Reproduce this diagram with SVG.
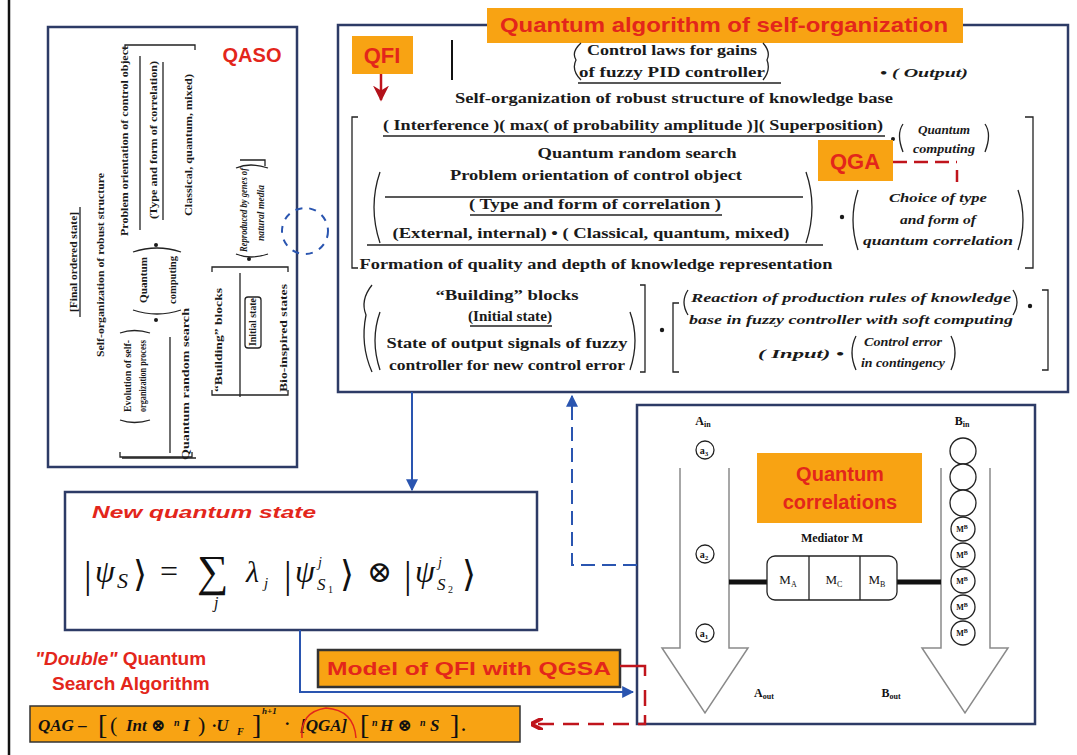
<svg xmlns="http://www.w3.org/2000/svg" width="1077" height="755" viewBox="0 0 1077 755">
<defs>
  <marker id="arrBlue" viewBox="0 0 10 10" refX="9" refY="5" markerWidth="6" markerHeight="6" orient="auto"><path d="M0,0 L10,5 L0,10 z" fill="#2a55b0"/></marker>
  <marker id="arrRed" viewBox="0 0 10 10" refX="9" refY="5" markerUnits="userSpaceOnUse" markerWidth="16" markerHeight="18" orient="auto"><path d="M0,0 L10,5 L0,10 L3,5 z" fill="#b3121a"/></marker>
  <marker id="chevRed" viewBox="0 0 10 10" refX="9" refY="5" markerWidth="5" markerHeight="5" orient="auto"><path d="M0,0 L10,5 L0,10" fill="none" stroke="#c0141c" stroke-width="3"/></marker>
</defs>
<style>
  .panel{fill:#fff;stroke:#2d3b66;stroke-width:2.5}
  .orange{fill:#f8a313}
  .hl{font-family:'Liberation Sans',Arial,sans-serif;font-weight:bold;fill:#e3261b}
  .t{font-family:'Liberation Serif','Times New Roman',serif;font-weight:bold;fill:#1a1a1a;font-size:14px}
  .ti{font-family:'Liberation Serif','Times New Roman',serif;font-weight:bold;font-style:italic;fill:#1a1a1a;font-size:13px}
  .q{font-size:10.5px}
  .ln{stroke:#222;stroke-width:1.3;fill:none}
  .gray{stroke:#8a8a8a;stroke-width:1.5;fill:#fff}
  .m{font-family:'Liberation Serif','DejaVu Serif',serif;fill:#111}
  .mi{font-family:'Liberation Serif','DejaVu Serif',serif;font-style:italic;fill:#111}
  .bd{stroke:#2a55b0;stroke-width:2;fill:none}
  .rd{stroke:#c0141c;stroke-width:2.5;fill:none}
</style>
<rect width="1077" height="755" fill="#fff"/>
<line x1="9" y1="0" x2="9" y2="755" stroke="#111" stroke-width="2.5"/>

<!-- QASO panel: rotated formula -->
<g id="qaso">
  <rect class="panel" x="48" y="27" width="249" height="440"/>
  <text class="hl" x="252" y="62" font-size="20" text-anchor="middle">QASO</text>
  <g class="t q" text-anchor="middle">
    <text transform="translate(77,262) rotate(-90)" textLength="100" lengthAdjust="spacingAndGlyphs">[Final ordered state]</text>
    <text transform="translate(104,265) rotate(-90)" textLength="184" lengthAdjust="spacingAndGlyphs">Self-organization of robust structure</text>
    <text transform="translate(128,141) rotate(-90)" textLength="190" lengthAdjust="spacingAndGlyphs">Problem orientation of control object</text>
    <text transform="translate(157,140) rotate(-90)" textLength="158" lengthAdjust="spacingAndGlyphs">(Type and form of correlation)</text>
    <text transform="translate(192,145) rotate(-90)" textLength="142" lengthAdjust="spacingAndGlyphs">Classical, quantum, mixed)</text>
    <text transform="translate(147,280) rotate(-90)" textLength="46" lengthAdjust="spacingAndGlyphs">Quantum</text>
    <text transform="translate(176,280) rotate(-90)" textLength="48" lengthAdjust="spacingAndGlyphs">computing</text>
    <text transform="translate(131,376) rotate(-90)" textLength="72" lengthAdjust="spacingAndGlyphs">Evolution of self-</text>
    <text transform="translate(146,376) rotate(-90)" textLength="72" lengthAdjust="spacingAndGlyphs">organization process</text>
    <text transform="translate(189,384) rotate(-90)" textLength="152" lengthAdjust="spacingAndGlyphs">Quantum random search</text>
    <text transform="translate(222,340) rotate(-90)" textLength="104" lengthAdjust="spacingAndGlyphs">“Building” blocks</text>
    <text transform="translate(256,322) rotate(-90)" textLength="48" lengthAdjust="spacingAndGlyphs">Initial state</text>
    <text transform="translate(287,338) rotate(-90)" textLength="108" lengthAdjust="spacingAndGlyphs">Bio-inspired states</text>
    <text class="ti q" transform="translate(247,210) rotate(-90)" textLength="84" lengthAdjust="spacingAndGlyphs">Reproduced by genes of</text>
    <text class="ti q" transform="translate(264,213) rotate(-90)" textLength="56" lengthAdjust="spacingAndGlyphs">natural media</text>
  </g>
  <g class="ln">
    <path d="M80,207 V317"/>
    <path d="M125,50 V45 H195 V50"/>
    <path d="M140,56 V230"/>
    <path d="M163,62 V220"/>
    <path d="M133,252 Q157,244 181,252 M133,310 Q157,318 181,310"/>
    <path d="M120,333 Q134,328 150,333 M120,420 Q134,425 150,420"/>
    <path d="M170,337 V453"/>
    <path d="M120,452 V457 H192 V452"/>
    <path d="M212,272 V267 H288 V272 M212,390 V395 H288 V390"/>
    <path d="M240,273 V397"/>
    <rect x="245" y="297" width="16" height="51" rx="3"/>
    <path d="M236,168 Q250,162 268,168 M236,254 Q250,260 268,254"/>
    <path d="M240,160 H265 V166"/>
    <path d="M122,458 H196"/>
  </g>
  <g fill="#1a1a1a">
    <circle cx="156" cy="245" r="2"/>
    <circle cx="156" cy="320" r="2"/>
    <circle cx="249" cy="259" r="2"/>
  </g>
</g>

<!-- Quantum algorithm of self-organization -->
<g id="qaso-algorithm">
  <rect class="panel" x="338" y="25" width="730" height="367"/>
  <rect class="orange" x="487" y="8" width="476" height="35"/>
  <text class="hl" x="724" y="32" font-size="21" text-anchor="middle" textLength="448" lengthAdjust="spacingAndGlyphs">Quantum algorithm of self-organization</text>

  <line x1="452" y1="40" x2="452" y2="80" stroke="#111" stroke-width="2"/>
  <text class="t" font-size="13" x="672" y="55" text-anchor="middle" textLength="170" lengthAdjust="spacingAndGlyphs">Control laws for gains</text>
  <text class="t" font-size="13" x="672" y="77" text-anchor="middle" textLength="186" lengthAdjust="spacingAndGlyphs">of fuzzy PID controller</text>
  <path class="ln" d="M581,43 Q571,52 576,60 Q571,70 581,80 M763,43 Q771,52 767,60 Q771,70 763,80 M578,83 H781"/>
  <text class="ti" font-size="12" x="880" y="77" textLength="88" lengthAdjust="spacingAndGlyphs">• ( Output)</text>

  <text class="t" x="674" y="103" text-anchor="middle" textLength="438" lengthAdjust="spacingAndGlyphs">Self-organization of robust structure of knowledge base</text>
  <text class="t" x="383" y="130" textLength="500" lengthAdjust="spacingAndGlyphs">( Interference )( max( of probability amplitude )]( Superposition)</text>
  <path class="ln" d="M383,136 H885"/>
  <circle cx="893" cy="139" r="2" fill="#1a1a1a"/>
  <path class="ln" d="M903,124 Q896,134 903,152 M985,124 Q992,134 985,152"/>
  <text class="ti" font-size="12" x="944" y="134" text-anchor="middle" textLength="52" lengthAdjust="spacingAndGlyphs">Quantum</text>
  <text class="ti" font-size="12" x="944" y="153" text-anchor="middle" textLength="62" lengthAdjust="spacingAndGlyphs">computing</text>

  <path class="ln" d="M358,117 H352 V268 H358 M1025,117 H1033 V268 H1025"/>

  <text class="t" x="637" y="158" text-anchor="middle" textLength="199" lengthAdjust="spacingAndGlyphs">Quantum random search</text>
  <text class="t" x="596" y="180" text-anchor="middle" textLength="292" lengthAdjust="spacingAndGlyphs">Problem orientation of control object</text>
  <path class="ln" d="M380,172 Q368,207 380,243 M806,172 Q818,207 806,243"/>
  <path class="ln" d="M385,197 H803"/>
  <text class="t" font-size="13" x="595" y="209" text-anchor="middle" textLength="252" lengthAdjust="spacingAndGlyphs">( Type and form of correlation )</text>
  <path class="ln" d="M470,215 H722"/>
  <text class="t" font-size="13" x="591" y="238" text-anchor="middle" textLength="397" lengthAdjust="spacingAndGlyphs">(External, internal) • ( Classical, quantum, mixed)</text>
  <path class="ln" d="M367,245 H823"/>
  <circle cx="842" cy="217" r="2.2" fill="#1a1a1a"/>
  <path class="ln" d="M858,190 Q848,220 858,250 M1018,190 Q1028,220 1018,250"/>
  <text class="ti" font-size="13" x="938" y="202" text-anchor="middle" textLength="98" lengthAdjust="spacingAndGlyphs">Choice of type</text>
  <text class="ti" font-size="13" x="938" y="224" text-anchor="middle" textLength="76" lengthAdjust="spacingAndGlyphs">and form of</text>
  <text class="ti" font-size="13" x="938" y="245" text-anchor="middle" textLength="150" lengthAdjust="spacingAndGlyphs">quantum correlation</text>

  <text class="t" x="596" y="269" text-anchor="middle" textLength="473" lengthAdjust="spacingAndGlyphs">Formation of quality and depth of knowledge representation</text>

  <path class="ln" d="M372,285 Q360,300 366,315 Q360,345 372,372"/>
  <path class="ln" d="M380,312 Q370,340 380,370 M630,312 Q640,340 630,370"/>
  <path class="ln" d="M640,285 H645 V372 H640"/>
  <text class="t" x="507" y="300" text-anchor="middle" textLength="143" lengthAdjust="spacingAndGlyphs">“Building” blocks</text>
  <text class="t" font-size="13" x="510" y="321" text-anchor="middle" textLength="84" lengthAdjust="spacingAndGlyphs">(Initial state)</text>
  <path class="ln" d="M470,326 H552"/>
  <text class="t" x="507" y="348" text-anchor="middle" textLength="241" lengthAdjust="spacingAndGlyphs">State of output signals of fuzzy</text>
  <text class="t" x="507" y="370" text-anchor="middle" textLength="236" lengthAdjust="spacingAndGlyphs">controller for new control error</text>

  <circle cx="662" cy="330" r="2.2" fill="#1a1a1a"/>
  <path class="ln" d="M679,303 H673 V372 H679"/>
  <path class="ln" d="M688,290 Q680,302 688,315 M1013,290 Q1021,302 1013,315"/>
  <text class="ti" font-size="13" x="851" y="302" text-anchor="middle" textLength="320" lengthAdjust="spacingAndGlyphs">Reaction of production rules of knowledge</text>
  <text class="ti" font-size="13" x="851" y="324" text-anchor="middle" textLength="324" lengthAdjust="spacingAndGlyphs">base in fuzzy controller with soft computing</text>
  <circle cx="1030" cy="306" r="2.2" fill="#1a1a1a"/>
  <path class="ln" d="M1042,290 H1048 V370 H1042"/>
  <text class="ti" font-size="13" x="758" y="358" textLength="86" lengthAdjust="spacingAndGlyphs">( Input) •</text>
  <path class="ln" d="M856,336 Q848,352 856,370 M951,336 Q959,352 951,370"/>
  <text class="ti" font-size="12" x="903" y="346" text-anchor="middle" textLength="78" lengthAdjust="spacingAndGlyphs">Control error</text>
  <text class="ti" font-size="12" x="903" y="367" text-anchor="middle" textLength="84" lengthAdjust="spacingAndGlyphs">in contingency</text>
</g>

<g id="qfi">
  <rect class="orange" x="352" y="36" width="61" height="38"/>
  <text class="hl" x="382" y="63" font-size="22" text-anchor="middle">QFI</text>
</g>

<g id="qga">
  <rect class="orange" x="818" y="140" width="75" height="41"/>
  <text class="hl" x="855" y="169" font-size="22" text-anchor="middle">QGA</text>
</g>

<!-- Quantum correlations panel -->
<g id="quantum-correlations">
  <rect class="panel" x="637" y="405" width="398" height="319"/>
  <path class="gray" d="M680,468 V648 H662 L705,713 L748,648 H729 V468"/>
  <path class="gray" d="M941,468 V648 H922 L965,713 L1008,648 H990 V468"/>
  <g fill="#fff" stroke="#222" stroke-width="1.3">
    <circle cx="705" cy="450" r="9"/>
    <circle cx="705" cy="554" r="9"/>
    <circle cx="705" cy="633" r="9"/>
    <circle cx="963" cy="451" r="13"/>
    <circle cx="963" cy="477" r="13"/>
    <circle cx="963" cy="503" r="13"/>
    <circle cx="963" cy="529" r="12"/>
    <circle cx="963" cy="555" r="12"/>
    <circle cx="963" cy="581" r="12"/>
    <circle cx="963" cy="607" r="12"/>
    <circle cx="963" cy="633" r="12"/>
  </g>
  <g class="m" font-size="10" text-anchor="middle" font-weight="bold">
    <text x="704" y="454">a<tspan font-size="7" dy="2">3</tspan></text>
    <text x="704" y="558">a<tspan font-size="7" dy="2">2</tspan></text>
    <text x="704" y="637">a<tspan font-size="7" dy="2">1</tspan></text>
    <text x="962" y="532" font-size="8">M<tspan font-size="6" dy="-3">B</tspan></text>
    <text x="962" y="558" font-size="8">M<tspan font-size="6" dy="-3">B</tspan></text>
    <text x="962" y="584" font-size="8">M<tspan font-size="6" dy="-3">B</tspan></text>
    <text x="962" y="610" font-size="8">M<tspan font-size="6" dy="-3">B</tspan></text>
    <text x="962" y="636" font-size="8">M<tspan font-size="6" dy="-3">B</tspan></text>
    <text x="703" y="425" font-size="12">A<tspan font-size="8" dy="2">in</tspan></text>
    <text x="962" y="425" font-size="12">B<tspan font-size="8" dy="2">in</tspan></text>
    <text x="764" y="697" font-size="12">A<tspan font-size="8" dy="2">out</tspan></text>
    <text x="891" y="697" font-size="12">B<tspan font-size="8" dy="2">out</tspan></text>
    <text x="832" y="542" font-size="12">Mediator M</text>
  </g>
  <rect class="orange" x="757" y="453" width="165" height="70"/>
  <text class="hl" x="840" y="481" font-size="20" text-anchor="middle">Quantum</text>
  <text class="hl" x="840" y="509" font-size="20" text-anchor="middle">correlations</text>
  <line x1="729" y1="582" x2="768" y2="582" stroke="#111" stroke-width="5"/>
  <line x1="896" y1="582" x2="941" y2="582" stroke="#111" stroke-width="5"/>
  <rect x="767" y="556" width="130" height="44" rx="8" fill="#fff" stroke="#222" stroke-width="1.3"/>
  <path class="ln" d="M809,556 V600 M860,556 V600"/>
  <g class="m" font-size="13" text-anchor="middle">
    <text x="788" y="584">M<tspan font-size="8" dy="3">A</tspan></text>
    <text x="834" y="584">M<tspan font-size="8" dy="3">C</tspan></text>
    <text x="877" y="584">M<tspan font-size="8" dy="3">B</tspan></text>
  </g>
</g>

<!-- New quantum state -->
<g id="new-state">
  <rect class="panel" x="65" y="492" width="472" height="138"/>
  <text class="hl" x="92" y="518" font-size="17" font-style="italic" textLength="224" lengthAdjust="spacingAndGlyphs">New quantum state</text>
  <text class="m" x="84" y="588" font-size="38">|</text>
  <text class="mi" x="95" y="582" font-size="32">ψ</text>
  <text class="mi" x="117" y="588" font-size="22">S</text>
  <text class="m" x="133" y="586" font-size="36" font-family="DejaVu Serif">⟩</text>
  <text class="m" x="160" y="582" font-size="32">=</text>
  <text class="m" x="197" y="586" font-size="44">∑</text>
  <text class="mi" x="214" y="608" font-size="16">j</text>
  <text class="mi" x="246" y="582" font-size="30">λ</text>
  <text class="mi" x="264" y="588" font-size="15">j</text>
  <text class="m" x="284" y="588" font-size="38">|</text>
  <text class="mi" x="295" y="582" font-size="32">ψ</text>
  <text class="mi" x="318" y="567" font-size="14">j</text>
  <text class="mi" x="317" y="590" font-size="17">S</text>
  <text class="m" x="328" y="593" font-size="10">1</text>
  <text class="m" x="340" y="586" font-size="36" font-family="DejaVu Serif">⟩</text>
  <text class="m" x="367" y="582" font-size="30" font-family="DejaVu Serif">⊗</text>
  <text class="m" x="404" y="588" font-size="38">|</text>
  <text class="mi" x="415" y="582" font-size="32">ψ</text>
  <text class="mi" x="438" y="567" font-size="14">j</text>
  <text class="mi" x="437" y="590" font-size="17">S</text>
  <text class="m" x="448" y="593" font-size="10">2</text>
  <text class="m" x="462" y="586" font-size="36" font-family="DejaVu Serif">⟩</text>
</g>

<!-- Double quantum search label -->
<g id="double-search">
  <text class="hl" x="35" y="665" font-size="19"><tspan font-style="italic">"Double"</tspan> Quantum</text>
  <text class="hl" x="52" y="690" font-size="19">Search Algorithm</text>
</g>

<g id="qfi-qgsa">
  <rect x="318" y="650" width="302" height="37" fill="#f8a313" stroke="#333" stroke-width="2.5"/>
  <text class="hl" x="469" y="675" font-size="18" text-anchor="middle" textLength="284" lengthAdjust="spacingAndGlyphs">Model of QFI with  QGSA</text>
</g>

<g id="qag">
  <rect x="30" y="706" width="490" height="36" fill="#f8a313" stroke="#333" stroke-width="1.5"/>
  <g class="mi" font-size="17" font-weight="bold">
    <text x="38" y="731">QAG –</text>
    <text x="98" y="734" class="m" font-size="28" font-style="normal" font-weight="normal">[</text>
    <text x="110" y="732" class="m" font-size="22" font-style="normal" font-weight="normal">(</text>
    <text x="126" y="731">Int ⊗</text>
    <text x="174" y="726" font-size="10">n</text>
    <text x="183" y="731">I</text>
    <text x="198" y="732" class="m" font-size="22" font-style="normal" font-weight="normal">)</text>
    <text x="212" y="731">·U</text>
    <text x="237" y="735" font-size="10">F</text>
    <text x="252" y="734" class="m" font-size="28" font-style="normal" font-weight="normal">]</text>
    <text x="262" y="714" font-size="9">h+1</text>
    <text x="285" y="729">·</text>
    <text x="300" y="731">[QGA]</text>
    <text x="360" y="734" class="m" font-size="28" font-style="normal" font-weight="normal">[</text>
    <text x="372" y="726" font-size="10">n</text>
    <text x="380" y="731">H ⊗</text>
    <text x="420" y="726" font-size="10">n</text>
    <text x="430" y="731">S</text>
    <text x="450" y="734" class="m" font-size="28" font-style="normal" font-weight="normal">]</text>
    <text x="462" y="731">.</text>
  </g>
  <path d="M302,738 Q300,712 326,708 Q354,710 356,738" fill="none" stroke="#e3261b" stroke-width="1.5"/>
</g>

<!-- Connectors -->
<g id="connectors">
  <path class="rd" d="M381,74 V100" stroke="#b3121a" stroke-width="4" marker-end="url(#arrRed)"/>
  <path class="rd" d="M893,162 H957 M957,170 V182" stroke-dasharray="14 7" stroke-width="2"/>
  <path class="bd" d="M412,392 V490" marker-end="url(#arrBlue)"/>
  <path class="bd" d="M637,565 H572 V396" stroke-dasharray="14 7" marker-end="url(#arrBlue)"/>
  <circle class="bd" cx="305" cy="231" r="23" stroke-dasharray="7 7"/>
  <path class="bd" d="M300,630 V692 H633" marker-end="url(#arrBlue)"/>
  <path class="rd" d="M620,666 H645 V676"/>
  <path class="rd" d="M645,690 V724 H532" stroke-dasharray="16 9" marker-end="url(#chevRed)"/>
</g>
</svg>
